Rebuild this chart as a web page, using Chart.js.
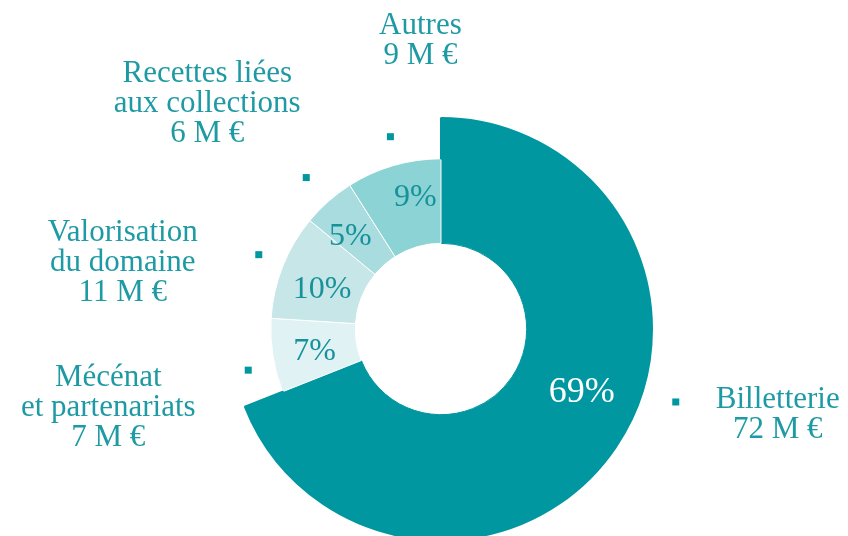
<!DOCTYPE html>
<html>
<head>
<meta charset="utf-8">
<script src="https://cdn.jsdelivr.net/npm/chart.js@4"></script>
<style>
  html, body { margin: 0; padding: 0; background: #fff; overflow: hidden; }
</style>
</head>
<body>
<canvas id="ressources_chart" width="848" height="560"></canvas>
<script>
// ressources propres, en M € et en part du total
var categories = ['Billetterie', 'Mécénat et partenariats', 'Valorisation du domaine', 'Recettes liées aux collections', 'Autres']
var labelLines = [['Billetterie'], ['Mécénat', 'et partenariats'], ['Valorisation', 'du domaine'], ['Recettes liées', 'aux collections'], ['Autres']]
var amounts = [72, 7, 11, 6, 9]
var shares = [69, 7, 10, 5, 9]

var teal = '#0097a1'
var sliceColors = [teal, '#e1f2f4', '#c6e6e8', '#a9dcdf', '#8bd3d5']

// the big slice sticks out: an outer ring that only shows Billetterie
var outerColors = shares.map(function (v, i) { return i === 0 ? teal : 'rgba(0,0,0,0)' })

var labelsPlugin = {
    id: 'sliceLabels',
    afterDatasetsDraw: function (chart, args, opts) {
        var ctx = chart.ctx
        var arcs = chart.getDatasetMeta(1).data
        ctx.save()
        ctx.textAlign = 'center'
        ctx.textBaseline = 'middle'
        arcs.forEach(function (arc, i) {
            var p = arc.getProps(['x', 'y', 'startAngle', 'endAngle', 'innerRadius', 'outerRadius'], true)
            var mid = (p.startAngle + p.endAngle) / 2
            var cos = Math.cos(mid), sin = Math.sin(mid)

            // percentage inside the slice
            var r = (p.innerRadius + p.outerRadius) / 2
            var pn = opts.pctNudge[i]
            ctx.fillStyle = i === 0 ? '#ffffff' : '#17929b'
            ctx.font = (i === 0 ? '36px' : '32px') + ' "Liberation Serif", serif'
            ctx.fillText(shares[i] + '%', p.x + r * cos + pn[0], p.y + r * sin + pn[1])

            // small square marker
            var mr = p.outerRadius + 29
            var mn = opts.markerNudge[i]
            var mx = p.x + mr * cos + mn[0]
            var my = p.y + mr * sin + mn[1]
            ctx.fillStyle = teal
            ctx.fillRect(mx - 3.5, my - 3.5, 7, 7)

            // category name and amount
            var lines = labelLines[i].concat([amounts[i] + ' M €'])
            var tn = opts.textNudge[i]
            ctx.fillStyle = '#1d9aa3'
            ctx.font = '31px "Liberation Serif", serif'
            lines.forEach(function (line, k) {
                ctx.fillText(line, mx + tn[0], my + tn[1] + k * 30)
            })
        })
        ctx.restore()
    }
}

var ctx = document.getElementById('ressources_chart')

var ressourcesChart = new Chart(ctx, {
    type: 'doughnut',
    data: {
        labels: categories,
        datasets: [{
            data: shares,
            backgroundColor: outerColors,
            borderColor: outerColors,
            borderWidth: shares.map(function (v, i) { return i === 0 ? 2 : 0 }),
            weight: 41
        }, {
            data: shares,
            backgroundColor: sliceColors,
            borderColor: sliceColors.map(function (c, i) { return i === 0 ? teal : '#ffffff' }),
            borderWidth: 1,
            weight: 85
        }]
    },
    options: {
        responsive: false,
        animation: false,
        cutout: '40.6%',
        hoverOffset: 0,
        layout: {
            padding: { left: 229, right: 195, top: 116, bottom: 18 }
        },
        plugins: {
            legend: { display: false },
            tooltip: { enabled: false },
            sliceLabels: {
                pctNudge: [[35, -8], [0, 3], [0, 8], [-6, 4], [10, -9]],
                markerNudge: [[70, -39], [4, 10], [3, -1], [-3, -2], [5, -1]],
                textNudge: [[102, -2], [-140, 8], [-136, -22], [-99, -104], [30, -111]]
            }
        }
    },
    plugins: [labelsPlugin]
})
</script>
</body>
</html>
